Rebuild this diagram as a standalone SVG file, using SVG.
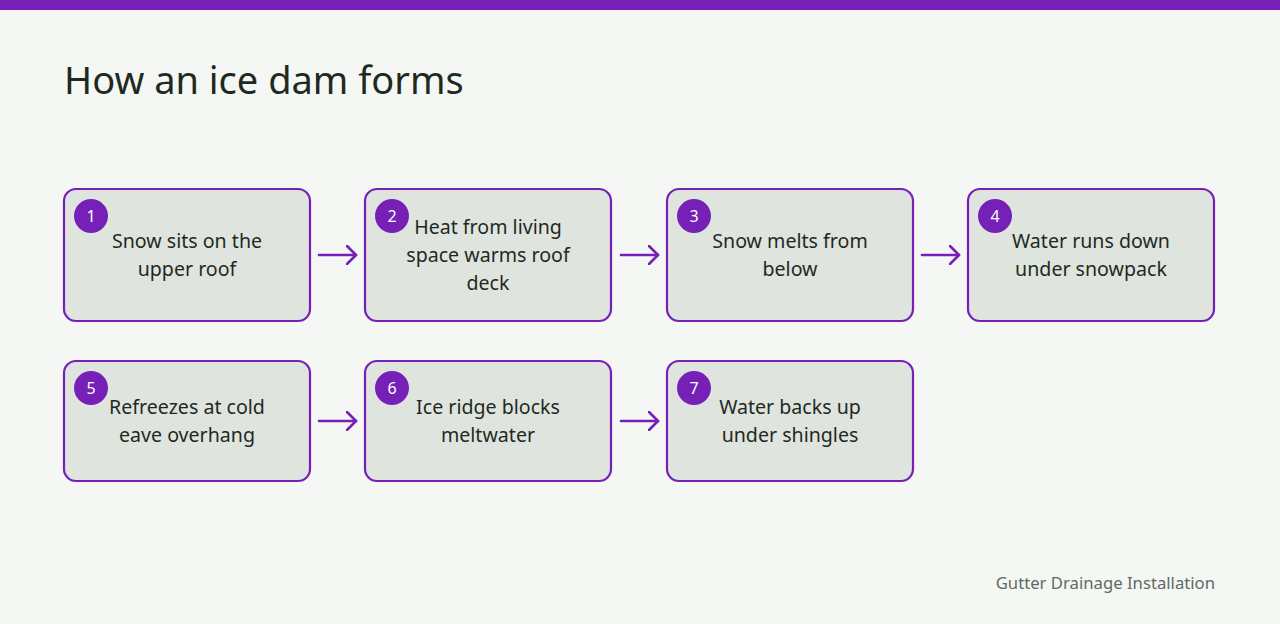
<svg xmlns="http://www.w3.org/2000/svg" width="1280" height="624" viewBox="0 0 1280 624">
<defs>
<marker id="ah" viewBox="0 0 12 20" markerWidth="12" markerHeight="20" refX="10" refY="10" orient="auto" markerUnits="userSpaceOnUse">
<path d="M1,1 L10,10 L1,19" fill="none" stroke="#7620b8" stroke-width="2.6" stroke-linecap="round" stroke-linejoin="round"/>
</marker>
</defs>
<style>
text{font-family:"Source Sans Pro","Noto Sans","Open Sans",sans-serif}
.box{fill:#dfe4de;stroke:#7620b8;stroke-width:2.2}
.badge{fill:#7620b8}
.num{fill:#ffffff;font-size:16px;text-anchor:middle}
.lbl{fill:#1f2a1f;font-size:19.6px;text-anchor:middle}
.con{stroke:#7620b8;stroke-width:2.6;fill:none;stroke-linecap:round}
</style>
<rect x="0" y="0" width="1280" height="624" fill="#f5f7f5"/>
<rect x="0" y="0" width="1280" height="10" fill="#7620b8"/>
<text x="64" y="94" font-size="38" fill="#1f2a1f">How an ice dam forms</text>

<g id="n1"><rect class="box" x="64" y="189" width="246" height="132" rx="12"/><circle class="badge" cx="91" cy="216" r="17"/><text class="num" x="91" y="222">1</text><text class="lbl" x="187" y="248">Snow sits on the</text><text class="lbl" x="187" y="276">upper roof</text></g>
<g id="n2"><rect class="box" x="365" y="189" width="246" height="132" rx="12"/><circle class="badge" cx="392" cy="216" r="17"/><text class="num" x="392" y="222">2</text><text class="lbl" x="488" y="234">Heat from living</text><text class="lbl" x="488" y="262">space warms roof</text><text class="lbl" x="488" y="290">deck</text></g>
<g id="n3"><rect class="box" x="667" y="189" width="246" height="132" rx="12"/><circle class="badge" cx="694" cy="216" r="17"/><text class="num" x="694" y="222">3</text><text class="lbl" x="790" y="248">Snow melts from</text><text class="lbl" x="790" y="276">below</text></g>
<g id="n4"><rect class="box" x="968" y="189" width="246" height="132" rx="12"/><circle class="badge" cx="995" cy="216" r="17"/><text class="num" x="995" y="222">4</text><text class="lbl" x="1091" y="248">Water runs down</text><text class="lbl" x="1091" y="276">under snowpack</text></g>
<g id="n5"><rect class="box" x="64" y="361" width="246" height="120" rx="12"/><circle class="badge" cx="91" cy="388" r="17"/><text class="num" x="91" y="394">5</text><text class="lbl" x="187" y="414">Refreezes at cold</text><text class="lbl" x="187" y="442">eave overhang</text></g>
<g id="n6"><rect class="box" x="365" y="361" width="246" height="120" rx="12"/><circle class="badge" cx="392" cy="388" r="17"/><text class="num" x="392" y="394">6</text><text class="lbl" x="488" y="414">Ice ridge blocks</text><text class="lbl" x="488" y="442">meltwater</text></g>
<g id="n7"><rect class="box" x="667" y="361" width="246" height="120" rx="12"/><circle class="badge" cx="694" cy="388" r="17"/><text class="num" x="694" y="394">7</text><text class="lbl" x="790" y="414">Water backs up</text><text class="lbl" x="790" y="442">under shingles</text></g>

<g id="connectors">
<line class="con" x1="319" y1="255" x2="356" y2="255" marker-end="url(#ah)"/>
<line class="con" x1="621" y1="255" x2="658" y2="255" marker-end="url(#ah)"/>
<line class="con" x1="922" y1="255" x2="959" y2="255" marker-end="url(#ah)"/>
<line class="con" x1="319" y1="421" x2="356" y2="421" marker-end="url(#ah)"/>
<line class="con" x1="621" y1="421" x2="658" y2="421" marker-end="url(#ah)"/>
</g>
<text x="1215" y="589" font-size="16.7" fill="#5f6b5f" text-anchor="end">Gutter Drainage Installation</text>
</svg>
